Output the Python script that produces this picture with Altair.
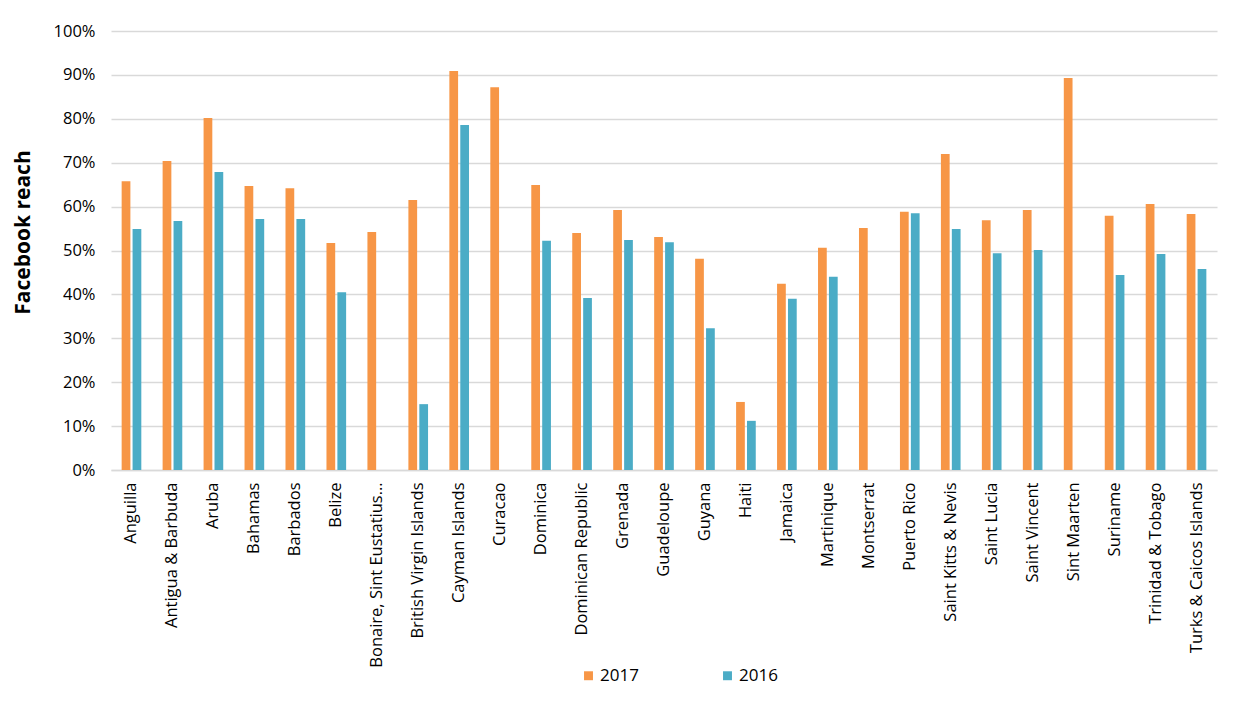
import altair as alt
import pandas as pd

countries = [
    "Anguilla", "Antigua & Barbuda", "Aruba", "Bahamas", "Barbados", "Belize",
    "Bonaire, Sint Eustatius and Saba", "British Virgin Islands", "Cayman Islands",
    "Curacao", "Dominica", "Dominican Republic", "Grenada", "Guadeloupe", "Guyana",
    "Haiti", "Jamaica", "Martinique", "Montserrat", "Puerto Rico",
    "Saint Kitts & Nevis", "Saint Lucia", "Saint Vincent", "Sint Maarten",
    "Suriname", "Trinidad & Tobago", "Turks & Caicos Islands",
]
reach_2017 = [
    65.8, 70.4, 80.2, 64.7, 64.2, 51.7, 54.2, 61.5, 90.9, 87.2, 64.9, 54.0, 59.2,
    53.1, 48.1, 15.5, 42.4, 50.6, 55.1, 58.8, 72.0, 56.9, 59.2, 89.3, 57.9, 60.6, 58.3,
]
reach_2016 = [
    54.9, 56.7, 67.9, 57.2, 57.2, 40.5, None, 15.0, 78.6, None, 52.2, 39.2, 52.4,
    51.9, 32.3, 11.2, 39.0, 44.0, None, 58.5, 54.9, 49.4, 50.1, None, 44.4, 49.2, 45.8,
]
years = ["2017", "2016"]
colors = ["#F79646", "#4BACC6"]

rows = []
for c, a, b in zip(countries, reach_2017, reach_2016):
    for y, v in zip(years, [a, b]):
        if v is not None:
            rows.append({"country": c, "year": y, "reach": v / 100.0})
df = pd.DataFrame(rows)

FONT = "Open Sans"

chart = alt.Chart(df).mark_bar().encode(
    x=alt.X("country:N", sort=countries,
            scale=alt.Scale(paddingInner=0.52, paddingOuter=0.26),
            axis=alt.Axis(title=None, labelAngle=-90, labelFontSize=16.5,
                          labelFont=FONT, labelColor="#000000", labelPadding=12,
                          labelLimit=186, ticks=False, domainColor="#d9d9d9",
                          domainWidth=1.5, grid=False)),
    xOffset=alt.XOffset("year:N", sort=years,
                        scale=alt.Scale(domain=years, paddingInner=0.2)),
    y=alt.Y("reach:Q",
            scale=alt.Scale(domain=[0, 1], nice=False),
            axis=alt.Axis(title="Facebook reach", format=".0%", values=[i / 10 for i in range(11)],
                          labelFontSize=16.5, labelFont=FONT, labelColor="#000000",
                          labelPadding=16, ticks=False, domain=False,
                          gridColor="#d9d9d9", gridWidth=1.3,
                          titleFont=FONT, titleFontSize=21, titleFontWeight="bold",
                          titleColor="#000000", titleX=-82, titleY=201,
                          titleBaseline="alphabetic", titleAngle=-90)),
    color=alt.Color("year:N", sort=years,
                    scale=alt.Scale(domain=years, range=colors),
                    legend=alt.Legend(title=None, orient="none", legendX=469, legendY=636,
                                      direction="horizontal", symbolType="square",
                                      symbolSize=80, symbolStrokeWidth=0,
                                      labelFont=FONT, labelFontSize=17,
                                      labelColor="#000000", labelOffset=3,
                                      columnPadding=80)),
).properties(
    width=1106, height=439,
    autosize=alt.AutoSizeParams(type="none"),
    padding={"left": 103, "top": 23, "right": 23, "bottom": 225},
).configure(background="#ffffff").configure_view(stroke=None)

chart.save("out.html", embed_options={"renderer": "svg", "actions": False})
